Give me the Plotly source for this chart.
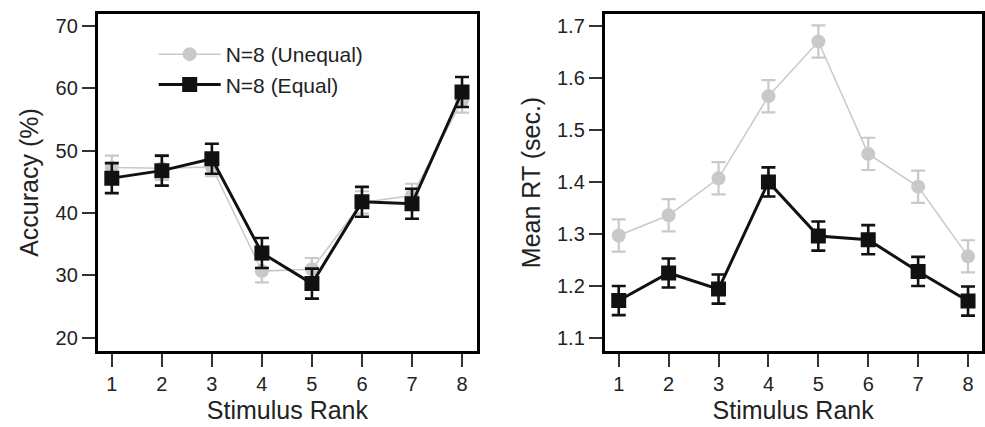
import plotly.graph_objects as go

ranks = [1, 2, 3, 4, 5, 6, 7, 8]
tick_labels = ["1", "2", "3", "4", "5", "6", "7", "8"]

acc_unequal = [47.3, 47.2, 47.4, 30.7, 31.0, 41.7, 42.8, 58.0]
acc_unequal_err = [1.9, 1.9, 1.5, 1.8, 1.8, 1.8, 1.9, 1.9]
acc_equal = [45.6, 46.8, 48.7, 33.6, 28.7, 41.8, 41.5, 59.4]
acc_equal_err = [2.4, 2.4, 2.4, 2.4, 2.4, 2.4, 2.4, 2.4]

rt_unequal = [1.297, 1.336, 1.407, 1.565, 1.670, 1.454, 1.391, 1.257]
rt_unequal_err = [0.031, 0.031, 0.031, 0.031, 0.031, 0.031, 0.031, 0.031]
rt_equal = [1.172, 1.225, 1.194, 1.400, 1.296, 1.289, 1.228, 1.171]
rt_equal_err = [0.028, 0.028, 0.028, 0.028, 0.028, 0.028, 0.028, 0.028]

acc_ticks = [20, 30, 40, 50, 60, 70]
rt_ticks = [1.1, 1.2, 1.3, 1.4, 1.5, 1.6, 1.7]

GRAY = "#c9c9c9"
BLACK = "#111111"
FONT = "Liberation Sans, Arial, sans-serif"

fig = go.Figure()

def add_pair(xref, yref, yu, eu, ye, ee, show):
    fig.add_trace(go.Scatter(
        x=ranks, y=yu, xaxis=xref, yaxis=yref, mode="lines+markers",
        name="N=8 (Unequal)", showlegend=show,
        line=dict(color=GRAY, width=1.5),
        marker=dict(symbol="circle", size=14, color=GRAY),
        error_y=dict(type="data", array=eu, color=GRAY, thickness=2.2, width=7),
    ))
    fig.add_trace(go.Scatter(
        x=ranks, y=ye, xaxis=xref, yaxis=yref, mode="lines+markers",
        name="N=8 (Equal)", showlegend=show,
        line=dict(color=BLACK, width=3),
        marker=dict(symbol="square", size=15, color=BLACK),
        error_y=dict(type="data", array=ee, color=BLACK, thickness=2.6, width=7),
    ))

add_pair("x", "y", acc_unequal, acc_unequal_err, acc_equal, acc_equal_err, True)
add_pair("x2", "y2", rt_unequal, rt_unequal_err, rt_equal, rt_equal_err, False)

axis_common = dict(
    showline=True, mirror=True, linewidth=3, linecolor="black",
    ticks="outside", ticklen=13, tickwidth=2, tickcolor="#333333",
    showgrid=False, zeroline=False,
    tickfont=dict(size=20, color="#222222", family=FONT),
)

ydom = [1 - 351 / 427, 1 - 14 / 427]

fig.update_layout(
    width=985, height=427,
    margin=dict(l=0, r=0, t=0, b=0),
    paper_bgcolor="white", plot_bgcolor="white",
    font=dict(family=FONT, color="#222222"),
    showlegend=True,
    legend=dict(
        x=154 / 985, y=1 - 34 / 427, xanchor="left", yanchor="top",
        bgcolor="rgba(0,0,0,0)", font=dict(size=21, color="#222222", family=FONT),
        itemwidth=62, tracegroupgap=0,
    ),
    xaxis=dict(domain=[98 / 985, 478 / 985], range=[0.72, 8.3],
               tickvals=ranks, ticktext=tick_labels,
               title=dict(text="Stimulus Rank", font=dict(size=25), standoff=8),
               **axis_common),
    yaxis=dict(domain=ydom, range=[17.9, 71.9], tickvals=acc_ticks,
               title=dict(text="Accuracy (%)", font=dict(size=25), standoff=10),
               **axis_common),
    xaxis2=dict(domain=[606 / 985, 983.5 / 985], range=[0.72, 8.27], anchor="y2",
                tickvals=ranks, ticktext=tick_labels,
                title=dict(text="Stimulus Rank", font=dict(size=25), standoff=8),
                **axis_common),
    yaxis2=dict(domain=ydom, range=[1.075, 1.723], anchor="x2", tickvals=rt_ticks,
                tickformat=".1f",
                title=dict(text="Mean RT (sec.)", font=dict(size=25), standoff=10),
                **axis_common),
)

fig.write_html("out.html", config={"displayModeBar": False},
               post_script="document.body.style.margin='0';document.body.style.overflow='hidden';")
